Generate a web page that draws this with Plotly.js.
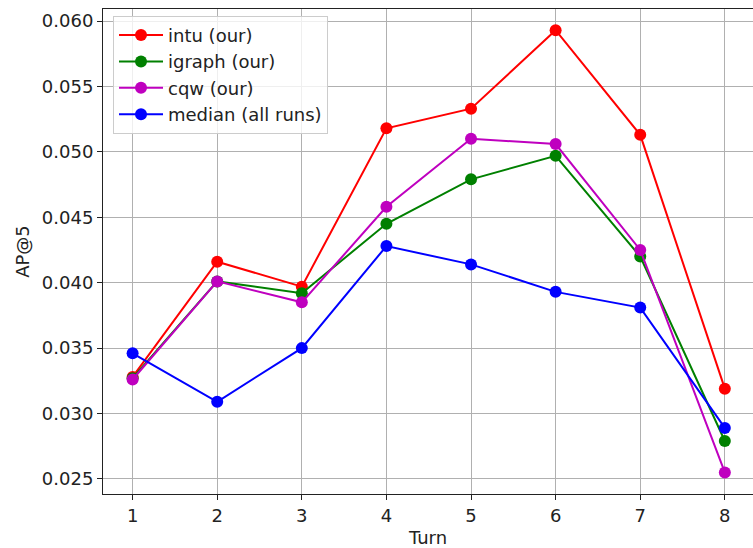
<!DOCTYPE html>
<html>
<head>
<meta charset="utf-8">
<script src="https://cdn.plot.ly/plotly-3.0.1.min.js"></script>
<style>html,body{margin:0;padding:0;background:#fff;}#chart{width:753px;height:548px;}</style>
</head>
<body>
<div id="chart"></div>
<script>
const turns = [1, 2, 3, 4, 5, 6, 7, 8];
const intu   = [0.0328, 0.0416, 0.0397, 0.0518, 0.0533, 0.0593, 0.0513, 0.0319];
const igraph = [0.0327, 0.0401, 0.0392, 0.0445, 0.0479, 0.0497, 0.0420, 0.0279];
const cqw    = [0.0326, 0.0401, 0.0385, 0.0458, 0.0510, 0.0506, 0.0425, 0.0255];
const median = [0.0346, 0.0309, 0.0350, 0.0428, 0.0414, 0.0393, 0.0381, 0.0289];
const names  = ['intu (our)', 'igraph (our)', 'cqw (our)', 'median (all runs)'];
const colors = ['#ff0000', '#008000', '#bf00bf', '#0000ff'];
const series = [intu, igraph, cqw, median];
const xTicks = [1, 2, 3, 4, 5, 6, 7, 8];
const yTicks = [0.025, 0.030, 0.035, 0.040, 0.045, 0.050, 0.055, 0.060];

const font = 'DejaVu Sans, sans-serif';
const fs = 18;
const traces = series.map((s, i) => ({
  x: turns, y: s, name: names[i], type: 'scatter', mode: 'lines+markers',
  line: {color: colors[i], width: 2},
  marker: {color: colors[i], size: 12}
}));

const layout = {
  width: 753, height: 548,
  margin: {l: 103, r: 0, t: 9, b: 54},
  paper_bgcolor: '#fff', plot_bgcolor: '#fff',
  font: {family: font, size: fs, color: '#222'},
  showlegend: true,
  legend: {
    x: 0.0154, y: 0.986, xanchor: 'left', yanchor: 'top',
    bgcolor: 'rgba(255,255,255,0.8)', bordercolor: '#cccccc', borderwidth: 1,
    font: {family: font, size: fs, color: '#222'},
    tracegroupgap: 0, itemwidth: 44
  },
  xaxis: {
    range: [0.65, 8.333], tickvals: xTicks, ticktext: xTicks.map(String),
    showgrid: true, gridcolor: '#b0b0b0', gridwidth: 1,
    showline: true, linecolor: '#222', linewidth: 1, mirror: true,
    ticks: 'outside', ticklen: 5, tickcolor: '#222', tickwidth: 1,
    zeroline: false,
    title: {text: 'Turn', font: {family: font, size: fs, color: '#222'}, standoff: 11}
  },
  yaxis: {
    range: [0.02385, 0.06092], tickvals: yTicks, ticktext: yTicks.map(v => v.toFixed(3)),
    showgrid: true, gridcolor: '#b0b0b0', gridwidth: 1,
    showline: true, linecolor: '#222', linewidth: 1, mirror: false,
    ticks: 'outside', ticklen: 5, tickcolor: '#222', tickwidth: 1,
    zeroline: false,
    title: {text: 'AP@5', font: {family: font, size: fs, color: '#222'}, standoff: 7}
  }
};

Plotly.newPlot('chart', traces, layout, {displayModeBar: false, staticPlot: true});
</script>
</body>
</html>
